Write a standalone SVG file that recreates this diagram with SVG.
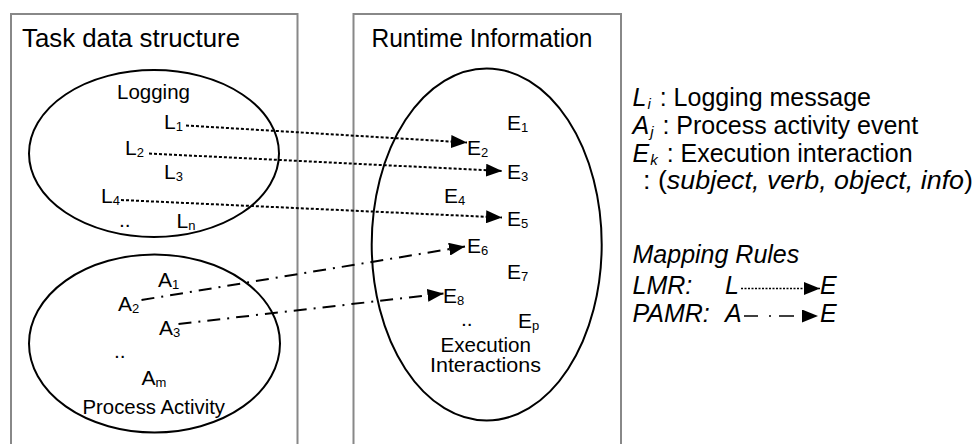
<svg xmlns="http://www.w3.org/2000/svg" width="976" height="444" viewBox="0 0 976 444">
<defs>
<style>
text{font-family:"Liberation Sans",Arial,sans-serif;fill:#000}
.title{font-size:25px}
.lbl{font-size:21px}
.sub{font-size:13px}
.leg{font-size:25px}
.it{font-style:italic}
.box{fill:none;stroke:#888;stroke-width:2}
.ell{fill:none;stroke:#000;stroke-width:2}
.dot{fill:none;stroke:#000;stroke-width:2;stroke-dasharray:3,2;marker-end:url(#ah)}
.dd{fill:none;stroke:#000;stroke-width:2;stroke-dasharray:13,7,2,7;marker-end:url(#ah)}
</style>
<marker id="ah" markerUnits="userSpaceOnUse" markerWidth="16" markerHeight="13" refX="16" refY="6.5" orient="auto">
<path d="M0,0 L16,6.5 L0,13 z" fill="#000"/>
</marker>
</defs>
<rect width="976" height="444" fill="#fff"/>

<g id="task-box">
<path class="box" d="M11,446 V14 H297.5 V446"/>
<text class="title" x="22" y="46.5" textLength="218" lengthAdjust="spacingAndGlyphs">Task data structure</text>
</g>
<g id="runtime-box">
<path class="box" d="M353.5,446 V14 H621 V446"/>
<text class="title" x="371.5" y="46.5" textLength="221" lengthAdjust="spacingAndGlyphs">Runtime Information</text>
</g>

<g id="logging">
<ellipse class="ell" cx="154" cy="153.5" rx="125" ry="83.5"/>
<text class="lbl" x="117" y="99" textLength="73" lengthAdjust="spacingAndGlyphs">Logging</text>
<text class="lbl" x="164" y="128.5">L<tspan class="sub" dy="2">1</tspan></text>
<text class="lbl" x="125" y="155">L<tspan class="sub" dy="2">2</tspan></text>
<text class="lbl" x="164" y="178.5">L<tspan class="sub" dy="2">3</tspan></text>
<text class="lbl" x="101" y="203">L<tspan class="sub" dy="2">4</tspan></text>
<text class="lbl" x="119" y="227">..</text>
<text class="lbl" x="176.5" y="227.5">L<tspan class="sub" dy="2">n</tspan></text>
</g>

<g id="process-activity">
<ellipse class="ell" cx="154.5" cy="343.5" rx="125.5" ry="89"/>
<text class="lbl" x="158" y="287">A<tspan class="sub" dy="2">1</tspan></text>
<text class="lbl" x="118" y="310.5">A<tspan class="sub" dy="2">2</tspan></text>
<text class="lbl" x="159" y="335">A<tspan class="sub" dy="2">3</tspan></text>
<text class="lbl" x="114" y="358">..</text>
<text class="lbl" x="141.5" y="385">A<tspan class="sub" dy="2">m</tspan></text>
<text class="lbl" x="82.5" y="414" textLength="142.5" lengthAdjust="spacingAndGlyphs">Process Activity</text>
</g>

<g id="execution-interactions">
<ellipse class="ell" cx="486.7" cy="244.5" rx="115" ry="176"/>
<text class="lbl" x="507" y="129.5">E<tspan class="sub" dy="2">1</tspan></text>
<text class="lbl" x="467" y="155">E<tspan class="sub" dy="2">2</tspan></text>
<text class="lbl" x="507" y="179">E<tspan class="sub" dy="2">3</tspan></text>
<text class="lbl" x="444" y="203">E<tspan class="sub" dy="2">4</tspan></text>
<text class="lbl" x="507" y="226">E<tspan class="sub" dy="2">5</tspan></text>
<text class="lbl" x="467" y="253">E<tspan class="sub" dy="2">6</tspan></text>
<text class="lbl" x="507" y="279">E<tspan class="sub" dy="2">7</tspan></text>
<text class="lbl" x="443" y="303">E<tspan class="sub" dy="2">8</tspan></text>
<text class="lbl" x="461" y="326">..</text>
<text class="lbl" x="518" y="328">E<tspan class="sub" dy="2">p</tspan></text>
<text x="440.5" y="351.5" font-size="19.5" textLength="90.5" lengthAdjust="spacingAndGlyphs">Execution</text>
<text x="430" y="372" font-size="19.5" textLength="111" lengthAdjust="spacingAndGlyphs">Interactions</text>
</g>

<g id="connectors">
<path class="dot" d="M186,125.5 L467,142.5"/>
<path class="dot" d="M149,153.5 L502,171"/>
<path class="dot" d="M121,200 L502,217.5"/>
<path class="dd" d="M141.5,300 L465,246.5"/>
<path class="dd" d="M178.5,324 L443.5,293.5"/>
</g>

<g id="legend">
<text class="leg" x="632.5" y="106"><tspan class="it">L</tspan><tspan class="it" font-size="15" dx="1" dy="3">i</tspan><tspan dy="-3" dx="2"> : Logging message</tspan></text>
<text class="leg" x="632.5" y="133.5"><tspan class="it">A</tspan><tspan class="it" font-size="15" dx="1" dy="3">j</tspan><tspan dy="-3" dx="2"> : Process activity event</tspan></text>
<text class="leg" x="632.5" y="161.5"><tspan class="it">E</tspan><tspan class="it" font-size="15" dx="1" dy="3">k</tspan><tspan dy="-3" dx="2"> : Execution interaction</tspan></text>
<text class="leg" x="643" y="189" font-size="24.5" textLength="330" lengthAdjust="spacingAndGlyphs">: (<tspan class="it">subject, verb, object, info</tspan>)</text>
<text class="leg it" x="632.5" y="263">Mapping Rules</text>
<text class="leg it" x="632.5" y="293.5">LMR:</text>
<text class="leg it" x="725" y="293.5">L</text>
<path d="M741,288.5 L820,288.5" fill="none" stroke="#000" stroke-width="1.3" stroke-dasharray="2,1.5" marker-end="url(#ah)"/>
<text class="leg it" x="820" y="293.5">E</text>
<text class="leg it" x="632.5" y="321.5">PAMR:</text>
<text class="leg it" x="725" y="321.5">A</text>
<path d="M744,316 H758 M769,316 H771 M779,316 H794" fill="none" stroke="#000" stroke-width="1.5"/>
<path d="M800,316 L818,316" fill="none" stroke="none" marker-end="url(#ah)"/>
<text class="leg it" x="820" y="321.5">E</text>
</g>
</svg>
